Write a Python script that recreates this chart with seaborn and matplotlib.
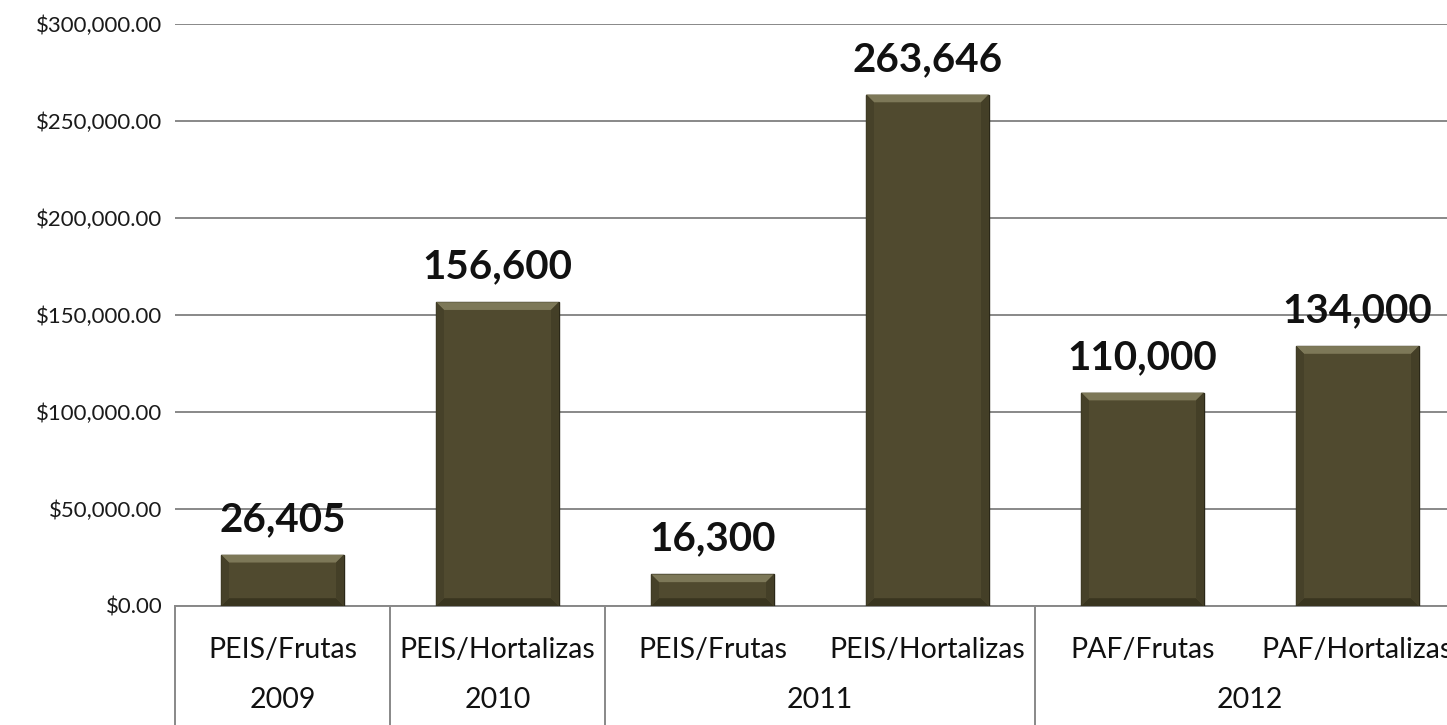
import numpy as np
import pandas as pd
import matplotlib
matplotlib.use("Agg")
import matplotlib.pyplot as plt
import matplotlib.transforms as mtransforms
from matplotlib.patches import Polygon
from matplotlib.ticker import FuncFormatter
import seaborn as sns

# chart data
programs = ["PEIS/Frutas", "PEIS/Hortalizas", "PEIS/Frutas", "PEIS/Hortalizas", "PAF/Frutas", "PAF/Hortalizas"]
years = ["2009", "2010", "2011", "2011", "2012", "2012"]
amounts = [26405, 156600, 16300, 263646, 110000, 134000]
y_ticks = [0, 50000, 100000, 150000, 200000, 250000, 300000]

BAR_COLOR = "#504A2F"
GRID_COLOR = "#888888"

sns.set_style("white")
plt.rcParams["font.family"] = ["Lato", "DejaVu Sans"]

df = pd.DataFrame({"slot": [str(i) for i in range(len(amounts))], "amount": amounts})

fig = plt.figure(figsize=(14.47, 7.25), dpi=100)
# plot area runs a little past the right edge, like the reference crop
ax = fig.add_axes([175 / 1447, 119 / 725, 1290 / 1447, 582 / 725])

sns.barplot(data=df, x="slot", y="amount", color=BAR_COLOR, width=0.57,
            saturation=1, edgecolor="#2a2717", linewidth=1.0, ax=ax, zorder=3)

# bevel: light top edge, darker sides and bottom
bx = 0.036   # ~8 px in x data units
by = 4000    # ~8 px in y data units
for p in list(ax.patches):
    x0, w, h = p.get_x(), p.get_width(), p.get_height()
    x1 = x0 + w
    d = min(by, h / 3)
    top = [(x0, h), (x1, h), (x1 - bx, h - d), (x0 + bx, h - d)]
    bot = [(x0, 0), (x1, 0), (x1 - bx, d), (x0 + bx, d)]
    left = [(x0, 0), (x0 + bx, d), (x0 + bx, h - d), (x0, h)]
    right = [(x1, 0), (x1 - bx, d), (x1 - bx, h - d), (x1, h)]
    for pts, c in [(top, "#7d7858"), (bot, "#39351f"), (left, "#464129"), (right, "#443f27")]:
        ax.add_patch(Polygon(pts, closed=True, facecolor=c, edgecolor="none", zorder=4))

ax.set_ylim(0, 300000)
ax.set_xlim(-0.5, 5.5)
ax.set_yticks(y_ticks)
ax.yaxis.set_major_formatter(FuncFormatter(lambda v, _: f"${v:,.2f}"))
ax.tick_params(axis="y", labelsize=16, length=0, pad=9, labelcolor="#1a1a1a")
ax.set_xticks([])
ax.set_xlabel("")
ax.set_ylabel("")
ax.grid(axis="y", color=GRID_COLOR, linewidth=1.4, zorder=0)
for s in ["left", "right", "top"]:
    ax.spines[s].set_visible(False)
ax.spines["bottom"].set_color(GRID_COLOR)
ax.spines["bottom"].set_linewidth(1.4)

# value labels
for i, v in enumerate(amounts):
    ax.annotate(f"{v:,}", (i, v), xytext=(0, 12), textcoords="offset points",
                ha="center", va="bottom", fontsize=29, fontweight="bold", color="#111111")

# multi-level category axis
trans = mtransforms.blended_transform_factory(ax.transData, ax.transAxes)
for i, name in enumerate(programs):
    ax.text(i, -44 / 582, name, transform=trans, ha="center", va="center",
            fontsize=20.5, color="#111111", clip_on=False)

group_labels = ["2009", "2010", "2011", "2012"]
group_pos = [0, 1, 2.5, 4.5]
for lab, pos in zip(group_labels, group_pos):
    ax.text(pos, -94 / 582, lab, transform=trans, ha="center", va="center",
            fontsize=20.5, color="#111111", clip_on=False)

for xs in [-0.5, 0.5, 1.5, 3.5]:
    ax.plot([xs, xs], [0, -0.21], transform=trans, color=GRID_COLOR,
            linewidth=1.4, clip_on=False)

fig.savefig("out.png", dpi=100)
